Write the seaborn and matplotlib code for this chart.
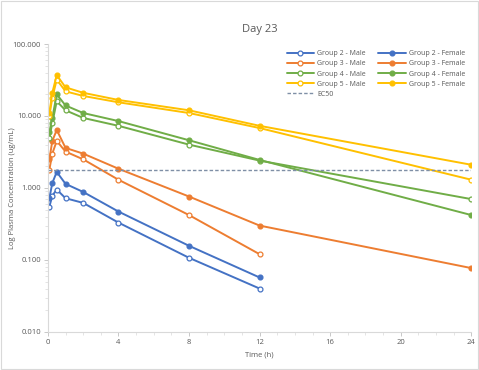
import numpy as np
import pandas as pd
import matplotlib
matplotlib.use("Agg")
import matplotlib.pyplot as plt
import seaborn as sns
from matplotlib.ticker import LogLocator, FixedLocator, MultipleLocator, FuncFormatter
from matplotlib.patches import Rectangle

# Zeitpunkte (h)
times = [0.083, 0.25, 0.5, 1, 2, 4, 8, 12, 24]

# Plasmakonzentrationen je Gruppe
g2_male = [0.55, 0.78, 0.95, 0.72, 0.62, 0.33, 0.107, 0.040]
g2_female = [0.72, 1.17, 1.67, 1.14, 0.88, 0.47, 0.157, 0.057]
g3_male = [1.8, 3.0, 4.5, 3.2, 2.5, 1.3, 0.42, 0.12]
g3_female = [2.5, 4.5, 6.4, 3.6, 3.0, 1.85, 0.76, 0.30, 0.077]
g4_male = [5.0, 8.0, 16, 12, 9.4, 7.3, 4.0, 2.4, 0.70]
g4_female = [6.0, 9.4, 20, 14, 11, 8.5, 4.6, 2.45, 0.42]
g5_male = [10, 18, 32, 22, 19, 15.5, 11, 6.8, 1.3]
g5_female = [11, 21, 37, 25, 21, 16.7, 12, 7.3, 2.1]
ec50 = 1.8

series = [
    ("Group 2 - Male", g2_male, "#4472C4", False),
    ("Group 2 - Female", g2_female, "#4472C4", True),
    ("Group 3 - Male", g3_male, "#ED7D31", False),
    ("Group 3 - Female", g3_female, "#ED7D31", True),
    ("Group 4 - Male", g4_male, "#70AD47", False),
    ("Group 4 - Female", g4_female, "#70AD47", True),
    ("Group 5 - Male", g5_male, "#FFC000", False),
    ("Group 5 - Female", g5_female, "#FFC000", True),
]

sns.set_style("white")
plt.rcParams['font.family'] = ['Open Sans', 'DejaVu Sans']

fig = plt.figure(figsize=(4.79, 3.70), dpi=100)
ax = fig.add_axes([0.100, 0.103, 0.884, 0.778])

grey = "#595959"
for name, vals, col, filled in series:
    df = pd.DataFrame({"t": times[:len(vals)], "c": vals})
    sns.lineplot(data=df, x="t", y="c", ax=ax, color=col, linewidth=1.4,
                 marker="o", markersize=3.5, markeredgewidth=0.9,
                 markeredgecolor=col, markerfacecolor=col if filled else "white",
                 label=name)

ax.plot([0, 24], [ec50, ec50], linestyle=(0, (2.5, 1.5)), color="#7F8FA6",
        linewidth=1.0, label="EC50")

ax.set_yscale("log")
ax.set_ylim(0.01, 100)
ax.set_xlim(0, 24)
ax.yaxis.set_major_locator(FixedLocator([0.01, 0.1, 1, 10, 100]))
ax.yaxis.set_major_formatter(FuncFormatter(lambda v, p: f"{v:.3f}"))
ax.yaxis.set_minor_locator(LogLocator(base=10, subs=np.arange(2, 10)))
ax.yaxis.set_minor_formatter(FuncFormatter(lambda v, p: ""))
ax.xaxis.set_major_locator(MultipleLocator(4))
ax.xaxis.set_minor_locator(MultipleLocator(1))

for s in ["top", "right"]:
    ax.spines[s].set_visible(False)
for s in ["left", "bottom"]:
    ax.spines[s].set_color("#D9D9D9")
    ax.spines[s].set_linewidth(0.8)

ax.tick_params(axis="both", which="major", labelsize=5.5, labelcolor=grey,
               color="#BFBFBF", length=3, width=0.6, direction="out",
               bottom=True, left=True, pad=2)
ax.tick_params(axis="both", which="minor", color="#D9D9D9", length=2,
               width=0.5, bottom=True, left=True)

ax.set_title("Day 23", fontsize=8, color=grey, pad=9)
ax.set_xlabel("Time (h)", fontsize=5.5, color=grey, labelpad=4)
ax.set_ylabel("Log Plasma Concentration (ug/mL)", fontsize=5.5, color=grey)
ax.yaxis.set_label_coords(-0.075, 0.5)

# Legende zeilenweise: Male links, Female rechts
handles, labels = ax.get_legend_handles_labels()
order = [0, 2, 4, 6, 8, 1, 3, 5, 7]
handles = [handles[i] for i in order]
labels = [labels[i] for i in order]
leg = ax.legend(handles, labels, loc="upper right", ncol=2, fontsize=5, frameon=False,
                bbox_to_anchor=(1.0, 1.0), handlelength=4, columnspacing=1.8,
                labelspacing=0.45, handletextpad=0.4)
for t in leg.get_texts():
    t.set_color(grey)

fig.patches.append(Rectangle((0.003, 0.003), 0.994, 0.994, transform=fig.transFigure,
                             fill=False, edgecolor="#D9D9D9", linewidth=0.8))

fig.savefig("out.png", dpi=100)
